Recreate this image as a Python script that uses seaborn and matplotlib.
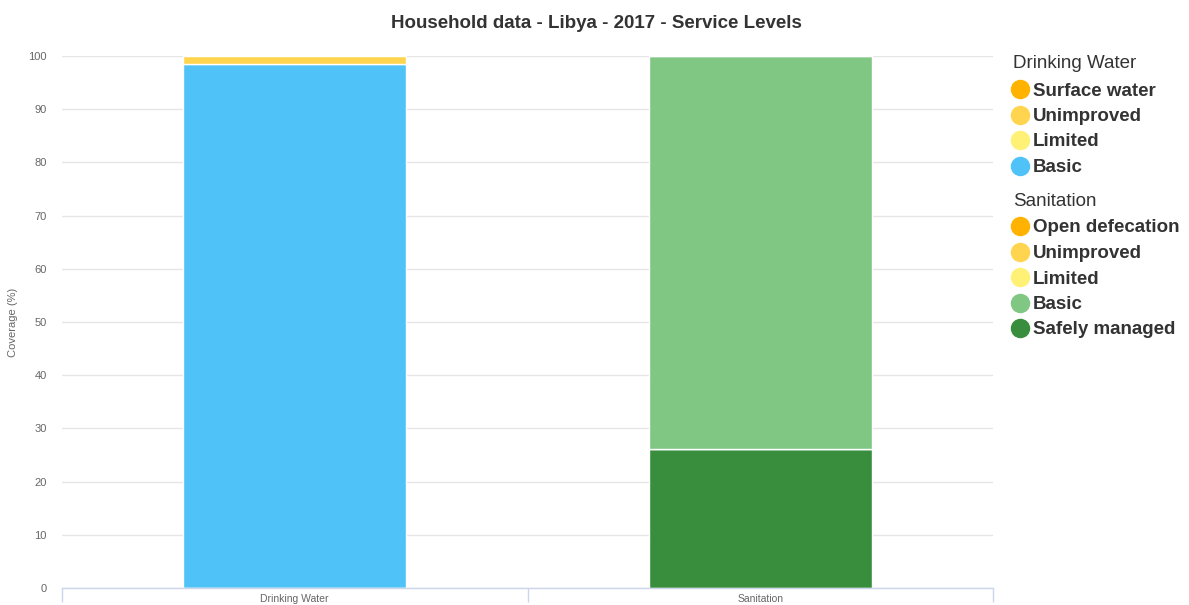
import matplotlib
matplotlib.use("Agg")
import matplotlib.pyplot as plt
import seaborn as sns
import pandas as pd
import numpy as np
from matplotlib.lines import Line2D

categories = ["Drinking Water", "Sanitation"]
layers = ["Safely managed", "Basic", "Limited", "Unimproved", "Surface water / Open defecation"]
water_vals = [0.0, 98.5, 0.0, 1.5, 0.0]
san_vals = [26.1, 73.9, 0.0, 0.0, 0.0]
water_colors = ["#388E3C", "#4FC3F7", "#FFF176", "#FFD54F", "#FFB300"]
san_colors = ["#388E3C", "#81C784", "#FFF176", "#FFD54F", "#FFB300"]
yticks = [0, 10, 20, 30, 40, 50, 60, 70, 80, 90, 100]

legend_water = ["Surface water", "Unimproved", "Limited", "Basic"]
legend_water_colors = ["#FFB300", "#FFD54F", "#FFF176", "#4FC3F7"]
legend_san = ["Open defecation", "Unimproved", "Limited", "Basic", "Safely managed"]
legend_san_colors = ["#FFB300", "#FFD54F", "#FFF176", "#81C784", "#388E3C"]

sns.set_theme(style="white")
plt.rcParams["font.family"] = ["Liberation Sans", "DejaVu Sans"]

W, H = 1189, 605
fig = plt.figure(figsize=(W / 100, H / 100), dpi=100)
ax = fig.add_axes([62 / W, (H - 588) / H, (993 - 62) / W, (588 - 56) / H])

bottom = np.zeros(len(categories))
for i, layer in enumerate(layers):
    vals = np.array([water_vals[i], san_vals[i]])
    for j, cat in enumerate(categories):
        if vals[j] <= 0:
            continue
        col = water_colors[i] if j == 0 else san_colors[i]
        h = np.zeros(len(categories))
        h[j] = vals[j]
        sns.barplot(x=categories, y=h, bottom=bottom, color=col, width=0.48,
                    saturation=1, edgecolor="white", linewidth=1, ax=ax,
                    order=categories)
    bottom = bottom + vals

ax.set_xlim(-0.5, 1.5)
ax.set_ylim(0, 100)
ax.set_yticks(yticks)
ax.set_yticklabels([str(t) for t in yticks], fontsize=8, color="#666666")
ax.yaxis.grid(True, color="#e6e6e6", linewidth=1)
ax.set_axisbelow(True)
ax.tick_params(axis="y", length=0, pad=11)
ax.set_ylabel("Coverage (%)", fontsize=8, color="#666666", labelpad=7)
ax.set_xlabel("")
ax.set_xticks([0, 1])
ax.set_xticklabels(categories, fontsize=7.5, color="#666666")
ax.set_xticks([-0.5, 0.5, 1.5], minor=True)
ax.tick_params(axis="x", which="major", length=0, pad=4)
ax.tick_params(axis="x", which="minor", bottom=True, length=10, color="#ccd6eb", width=1)
for s in ["top", "right", "left"]:
    ax.spines[s].set_visible(False)
ax.spines["bottom"].set_color("#ccd6eb")
ax.spines["bottom"].set_linewidth(1)

fig.text(596 / W, 1 - 23 / H, "Household data - Libya - 2017 - Service Levels",
         ha="center", va="center", fontsize=13.5, fontweight="bold", color="#333333")

def legend_block(title, labels, colors, y0):
    fig.text(1013 / W, 1 - y0 / H, title, ha="left", va="center", fontsize=13.5, color="#333333")
    for k, (lab, c) in enumerate(zip(labels, colors)):
        y = y0 + 26 + k * 25.5
        fig.add_artist(Line2D([1020 / W], [1 - (y - 1) / H], marker="o", markersize=13,
                              markerfacecolor=c, markeredgecolor=c, linestyle="none",
                              transform=fig.transFigure))
        fig.text(1033 / W, 1 - (y + 1) / H, lab, ha="left", va="center", fontsize=13.5,
                 fontweight="bold", color="#333333")

legend_block("Drinking Water", legend_water, legend_water_colors, 64)
legend_block("Sanitation", legend_san, legend_san_colors, 201)

fig.savefig("out.png", dpi=100)
